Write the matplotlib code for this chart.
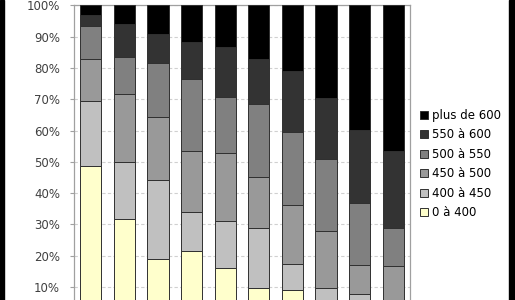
import matplotlib
matplotlib.use("Agg")
import matplotlib.pyplot as plt
from matplotlib.patches import Rectangle
from matplotlib.ticker import FuncFormatter
import numpy as np

# Donnees (en %), une serie par tranche
categories = ["1", "2", "3", "4", "5", "6", "7", "8", "9", "10"]
series_labels = ["0 à 400", "400 à 450", "450 à 500", "500 à 550", "550 à 600", "plus de 600"]
s0_400 = [48.7, 31.7, 18.9, 21.5, 16.0, 9.6, 8.9, 4.0, 2.5, 1.5]
s400_450 = [20.8, 18.4, 25.3, 12.5, 15.1, 19.2, 8.3, 5.7, 5.2, 3.5]
s450_500 = [13.5, 21.5, 20.2, 19.5, 21.8, 16.5, 18.9, 18.2, 9.2, 11.7]
s500_550 = [10.5, 12.0, 17.1, 23.0, 17.8, 23.2, 23.4, 22.9, 19.9, 12.1]
s550_600 = [3.5, 10.5, 9.3, 11.7, 16.0, 14.3, 19.7, 19.5, 23.3, 24.7]
s600 = [3.0, 5.9, 9.2, 11.8, 13.3, 17.2, 20.8, 29.7, 39.9, 46.5]

colors = ["#ffffcc", "#c0c0c0", "#999999", "#808080", "#333333", "#000000"]

fig = plt.figure(figsize=(5.15, 3.0), dpi=100)
fig.patch.set_facecolor("white")

# axe qui depasse en bas (le 0% est coupe dans l'image)
ax = fig.add_axes([74 / 515, -0.061, 336 / 515, 1.0427])

x = np.arange(len(categories))
bottom = np.zeros(len(categories))
for vals, lab, col in zip([s0_400, s400_450, s450_500, s500_550, s550_600, s600],
                          series_labels, colors):
    ax.bar(x, vals, width=0.63, bottom=bottom, color=col, edgecolor="#303030",
           linewidth=0.7, label=lab, zorder=3)
    bottom += np.array(vals)

ax.set_xlim(-0.5, len(categories) - 0.5)
ax.set_ylim(0, 100)
ax.set_yticks(np.arange(10, 101, 10))
ax.yaxis.set_major_formatter(FuncFormatter(lambda v, p: "%d%%" % v))
ax.set_xticks([])
ax.grid(axis="y", color="#d0d0d0", linestyle=(0, (3, 2)), linewidth=0.8, zorder=0)
ax.tick_params(axis="y", labelsize=8.5, labelcolor="#404040", length=3,
               color="#a0a0a0", pad=7)
for s in ax.spines.values():
    s.set_color("#a0a0a0")
    s.set_linewidth(0.9)

handles, labels = ax.get_legend_handles_labels()
fig.legend(handles[::-1], labels[::-1], loc="center left",
           bbox_to_anchor=(420 / 515, 0.453), frameon=False, fontsize=8.5,
           handlelength=0.7, handleheight=0.7, handletextpad=0.3,
           labelspacing=0.55, borderpad=0, borderaxespad=0)

# bandes noires sur les bords
fig.add_artist(Rectangle((0, 0), 4 / 515, 1, transform=fig.transFigure,
                         color="black", zorder=10))
fig.add_artist(Rectangle((509 / 515, 0), 6 / 515, 1, transform=fig.transFigure,
                         color="black", zorder=10))

fig.savefig("out.png", dpi=100, facecolor="white")
